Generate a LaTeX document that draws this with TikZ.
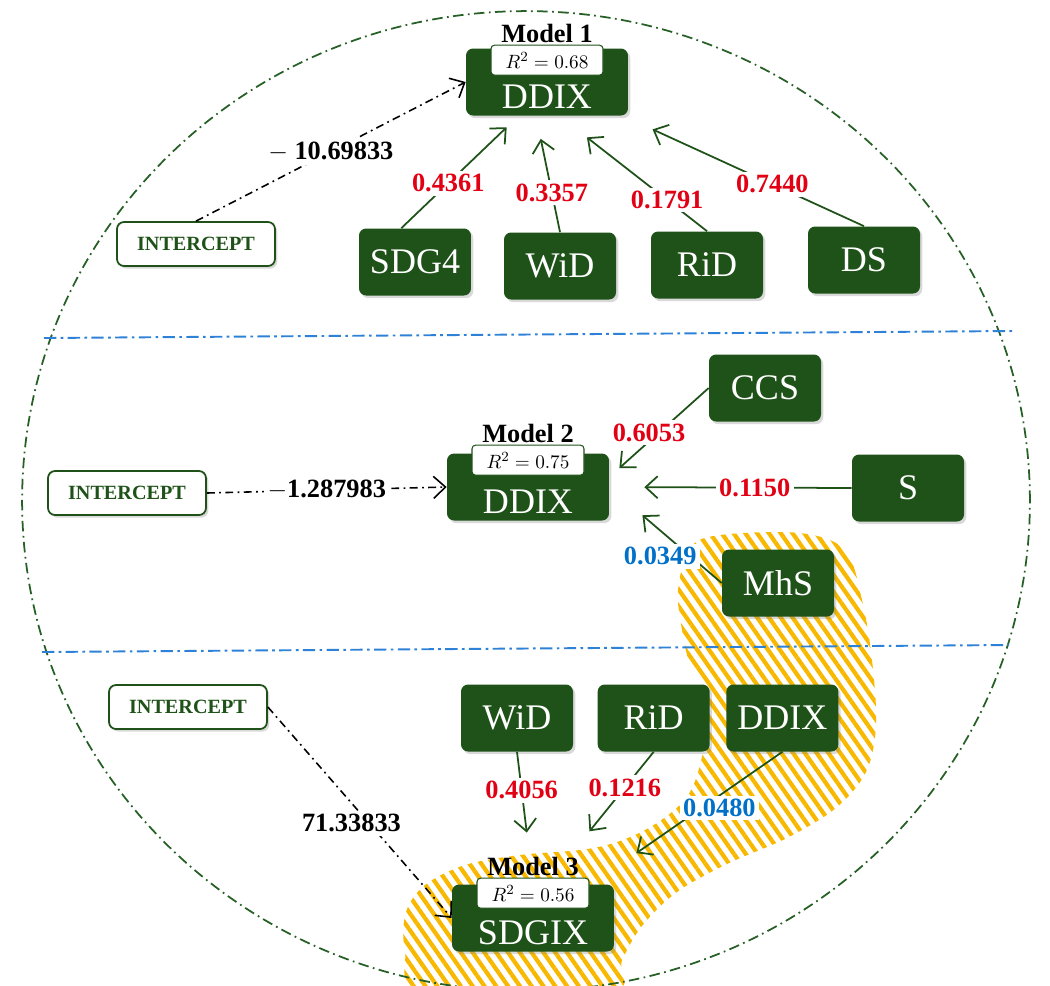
\documentclass[tikz,border=0pt]{standalone}
\usepackage{fontspec}
\setmainfont{Liberation Serif}
\usepackage{tikz}
\usetikzlibrary{positioning, arrows.meta, calc, shadows, patterns.meta}
\pgfdeclarelayer{background}
\pgfsetlayers{background,main}
\definecolor{boxgreen}{RGB}{30,82,24}
\definecolor{rimgreen}{RGB}{38,96,38}
\definecolor{coefred}{RGB}{226,0,20}
\definecolor{coefblue}{RGB}{0,112,200}
\definecolor{splitblue}{RGB}{45,130,215}
\definecolor{hatchyellow}{RGB}{248,184,0}
\newcommand{\Rsq}[1]{$R^2 = #1$}
\tikzset{
    var/.style={fill=boxgreen, text=white, rounded corners=4pt, inner xsep=4pt,
        minimum width=2.24cm, minimum height=1.34cm,
        font=\fontsize{20.5}{24}\selectfont,
        drop shadow={shadow xshift=1.3pt, shadow yshift=-1.5pt, opacity=0.3}},
    model/.style={var, minimum width=3.24cm, text height=1.04cm, text depth=0pt, inner ysep=0pt},
    rbox/.style={draw=boxgreen, fill=white, rounded corners=2pt, line width=0.6pt,
        minimum width=2.24cm, minimum height=0.6cm, inner sep=0pt, font=\fontsize{11}{13}\selectfont},
    mtitle/.style={font=\fontsize{15}{18}\selectfont\bfseries, inner sep=1pt},
    icpt/.style={draw=boxgreen, fill=white, text=boxgreen, rounded corners=4pt, line width=1pt,
        minimum width=3.16cm, minimum height=0.88cm, font=\fontsize{11.5}{14}\selectfont\bfseries,
        drop shadow={shadow xshift=1.3pt, shadow yshift=-1.5pt, opacity=0.3}},
    coef/.style={fill=white, inner sep=2pt, font=\fontsize{15}{18}\selectfont\bfseries},
    coefr/.style={coef, text=coefred},
    coefb/.style={coef, text=coefblue},
    icnum/.style={coef, text=black},
}

\begin{document}
\begin{tikzpicture}[x=0.02cm, y=-0.02cm]
    \tikzset{
      link/.style={draw=boxgreen, line width=1pt, -{Straight Barb[length=2.4mm, width=4.4mm]}},
      icptline/.style={draw=black, line width=0.9pt, dash pattern=on 4.5pt off 2.5pt on 1pt off 2.5pt,
        -{Straight Barb[length=2.4mm, width=4.4mm]}},
      rim/.style={draw=rimgreen, line width=1pt, dash pattern=on 6pt off 2.5pt on 1pt off 2.5pt},
      split/.style={draw=splitblue, line width=1.1pt, dash pattern=on 7pt off 2.5pt on 1.5pt off 2.5pt}
    }
    \useasboundingbox (0,0) rectangle (1050,985);

    \begin{pgfonlayer}{background}
    \path[pattern={Lines[angle=-55, distance=5.5pt, line width=2.4pt]}, pattern color=hatchyellow]
      plot[smooth cycle, tension=0.55] coordinates {
        (690,548) (720,535) (800,533) (845,550) (862,600) (872,660) (876,725) (866,772)
        (836,808) (787,838) (727,864) (677,892) (642,926) (622,960) (608,994)
        (425,994) (405,950) (406,912) (425,885) (465,865) (520,855) (580,850) (614,843)
        (645,830) (672,812) (690,792) (700,765) (706,730) (704,690) (690,665) (682,630) (678,590)};
    \end{pgfonlayer}

    \draw[rim] (526,501) ellipse [x radius=10.08cm, y radius=9.8cm];
    \draw[split] (44,338) -- (1013,331);
    \draw[split] (42,652) -- (1009,645);

    % Model 1
    \node[model] (m1) at (547,82) {DDIX};
    \node[rbox] (r1) at ([yshift=-0.24cm]m1.north) {\Rsq{0.68}};
    \node[mtitle, above=0pt of r1] (t1) {Model 1};
    \node[var] (sdg) at (415,262) {SDG4};
    \node[var] (wid1) at (560,266) {WiD};
    \node[var] (rid1) at (707,265) {RiD};
    \node[var] (ds) at (864,260) {DS};
    \node[icpt] (i1) at (196,244) {INTERCEPT};

    \draw (i1.north) edge[icptline] node[icnum]{$-$ 10.69833} (m1.west);
    \draw (sdg.112) edge[link, shorten >=0.33cm] node[coefr, pos=0.4]{0.4361} (m1.-130);
    \draw (wid1.north) edge[link, shorten >=0.47cm] node[coefr, pos=0.34]{0.3357} (m1.-108);
    \draw (rid1.north) edge[link, shorten >=0.7cm] node[coefr, pos=0.27]{0.1791} (m1.-70);
    \draw (ds.north) edge[link, shorten >=0.65cm] node[coefr, pos=0.38]{0.7440} (m1.-24);

    % Model 2
    \node[model] (m2) at (528,487) {DDIX};
    \node[rbox] (r2) at ([yshift=-0.14cm]m2.north) {\Rsq{0.75}};
    \node[mtitle, above=0pt of r2] (t2) {Model 2};
    \node[var] (ccs) at (765,388) {CCS};
    \node[var] (s) at (908,488) {S};
    \node[var] (mhs) at (778,583) {MhS};
    \node[icpt] (i2) at (127,493) {INTERCEPT};

    \draw (i2.east) edge[icptline] node[icnum]{$-$1.287983} (m2.west);
    \draw (ccs.west) edge[link, shorten >=0.27cm] node[coefr, pos=0.5, xshift=-0.2cm]{0.6053} (m2.7);
    \draw (s.west) edge[link, shorten >=0.7cm] node[coefr, pos=0.4]{0.1150} (m2.east);
    \draw (mhs.west) edge[link, shorten >=0.87cm] node[coefb, pos=0.28, xshift=-0.6cm]{0.0349} (m2.east);

    % Model 3
    \node[model] (m3) at (533,918) {SDGIX};
    \node[rbox] (r3) at ([yshift=-0.18cm]m3.north) {\Rsq{0.56}};
    \node[mtitle, above=0pt of r3] (t3) {Model 3};
    \node[var] (wid3) at (517,718) {WiD};
    \node[var, right=0.48cm of wid3] (rid3) {RiD};
    \node[var, right=0.32cm of rid3] (ddx3) {DDIX};
    \node[icpt] (i3) at (188,707) {INTERCEPT};

    \draw (i3.east) edge[icptline] node[icnum, pos=0.55, xshift=-0.35cm]{71.33833} (m3.west);
    \draw (wid3.south) edge[link, shorten >=1.04cm] node[coefr, pos=0.29]{0.4056} (m3.north);
    \draw (rid3.south) edge[link, shorten >=1.36cm] node[coefr, pos=0.27]{0.1216} (m3.68);
    \draw (ddx3.south) edge[link, shorten >=1.09cm] node[coefb, pos=0.33, yshift=-0.25cm]{0.0480} (m3.30);
\end{tikzpicture}
\end{document}
